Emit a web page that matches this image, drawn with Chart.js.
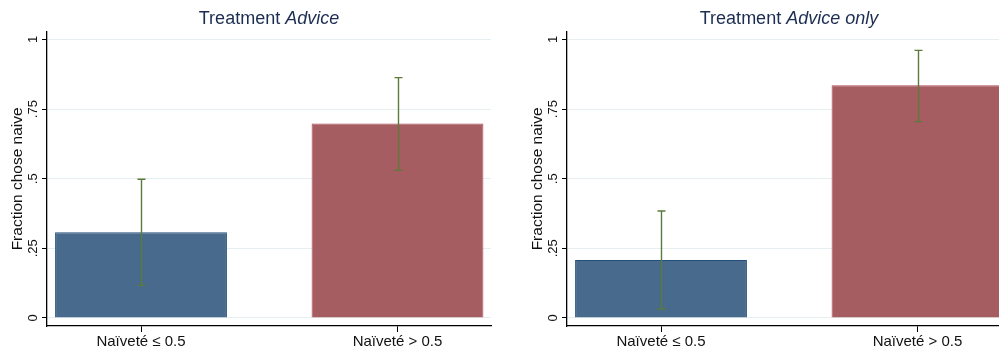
<!DOCTYPE html>
<html>
<head>
<meta charset="utf-8">
<script src="https://cdn.jsdelivr.net/npm/chart.js@4/dist/chart.umd.min.js"></script>
<style>
  html, body { margin: 0; padding: 0; background: #fff; overflow: hidden; }
  #wrap { position: relative; width: 999px; height: 351px; overflow: hidden; }
  .panel { position: absolute; top: 0; width: 500px; height: 351px; }
  .title {
    position: absolute; top: 8px; width: 444px; text-align: center;
    font: 18px "Liberation Sans", Arial, sans-serif; line-height: 21px; color: #1c2d52;
  }
</style>
</head>
<body>
<div id="wrap">
  <div class="panel" style="left:0px"><canvas id="adviceChart" width="500" height="351"></canvas></div>
  <div class="panel" style="left:520px"><canvas id="onlyChart" width="500" height="351"></canvas></div>
  <div class="title" style="left:47px">Treatment <i>Advice</i></div>
  <div class="title" style="left:567px">Treatment <i>Advice only</i></div>
</div>
<script>
const categories = ['Naïveté ≤ 0.5', 'Naïveté > 0.5'];
const positions = [1, 2];
const yTicks = [0, 0.25, 0.5, 0.75, 1];

// Treatment Advice
const adviceMeans = [0.308, 0.698];
const adviceLow = [0.117, 0.530];
const adviceHigh = [0.498, 0.863];

// Treatment Advice only
const onlyMeans = [0.208, 0.836];
const onlyLow = [0.032, 0.705];
const onlyHigh = [0.384, 0.961];

const fontFamily = '"Liberation Sans", Arial, sans-serif';

// confidence interval whiskers drawn on top of the bars
const errorBars = {
  id: 'errorBars',
  afterDatasetsDraw(chart, args, opts) {
    const {ctx, scales: {x, y}} = chart;
    ctx.save();
    ctx.strokeStyle = opts.color;
    ctx.lineWidth = 1.4;
    opts.low.forEach((lo, i) => {
      const px = Math.round(x.getPixelForValue(positions[i])) + 0.5;
      const top = y.getPixelForValue(opts.high[i]);
      const bot = y.getPixelForValue(lo);
      ctx.beginPath();
      ctx.moveTo(px, top);
      ctx.lineTo(px, bot);
      ctx.moveTo(px - 4, top);
      ctx.lineTo(px + 4, top);
      ctx.moveTo(px - 4, bot);
      ctx.lineTo(px + 4, bot);
      ctx.stroke();
    });
    ctx.restore();
  }
};

function makeChart(id, means, low, high) {
  const ctx = document.getElementById(id).getContext('2d');
  return new Chart(ctx, {
    type: 'bar',
    data: {
      datasets: [{
        data: positions.map((p, i) => ({x: p, y: means[i]})),
        backgroundColor: ['#486a8c', '#a65d61'],
        borderColor: ['#234f78', '#b04a52'],
        borderWidth: 1,
        barPercentage: 0.67,
        categoryPercentage: 1,
      }]
    },
    options: {
      responsive: false,
      animation: false,
      layout: { padding: { top: 31.7, right: 9, left: 0, bottom: 0 } },
      plugins: {
        legend: { display: false },
        tooltip: { enabled: false },
        errorBars: { low, high, color: '#5b7b3b' },
      },
      scales: {
        x: {
          type: 'linear',
          offset: false,
          min: 0.6335,
          max: 2.3645,
          afterBuildTicks: (s) => { s.ticks = positions.map(v => ({value: v})); },
          afterFit: (s) => { s.height = 25; },
          grid: { offset: false, drawOnChartArea: false, tickLength: 6, tickColor: '#000', color: '#000' },
          border: { color: '#000', width: 1.3 },
          ticks: {
            padding: 1,
            color: '#111',
            font: { family: fontFamily, size: 15 },
            maxRotation: 0,
            callback: (v) => categories[positions.indexOf(v)],
          }
        },
        y: {
          min: -0.029,
          max: 1.028,
          afterBuildTicks: (s) => { s.ticks = yTicks.map(v => ({value: v})); },
          afterFit: (s) => { s.width = 47; },
          grid: { color: '#e5eef0', lineWidth: 1, tickLength: 5, tickColor: '#000' },
          border: { color: '#000', width: 1.3 },
          ticks: {
            padding: 0,
            color: '#111',
            minRotation: 90,
            maxRotation: 90,
            crossAlign: 'center',
            font: { family: fontFamily, size: 13 },
            callback: (v) => v === 0 ? '0' : v === 1 ? '1' : String(v).replace(/^0/, ''),
          },
          title: {
            display: true,
            text: 'Fraction chose naive',
            color: '#111',
            font: { family: fontFamily, size: 15.5 },
            padding: { top: 8, bottom: 0 },
          }
        }
      }
    },
    plugins: [errorBars]
  });
}

const adviceChart = makeChart('adviceChart', adviceMeans, adviceLow, adviceHigh);
const onlyChart = makeChart('onlyChart', onlyMeans, onlyLow, onlyHigh);
</script>
</body>
</html>
